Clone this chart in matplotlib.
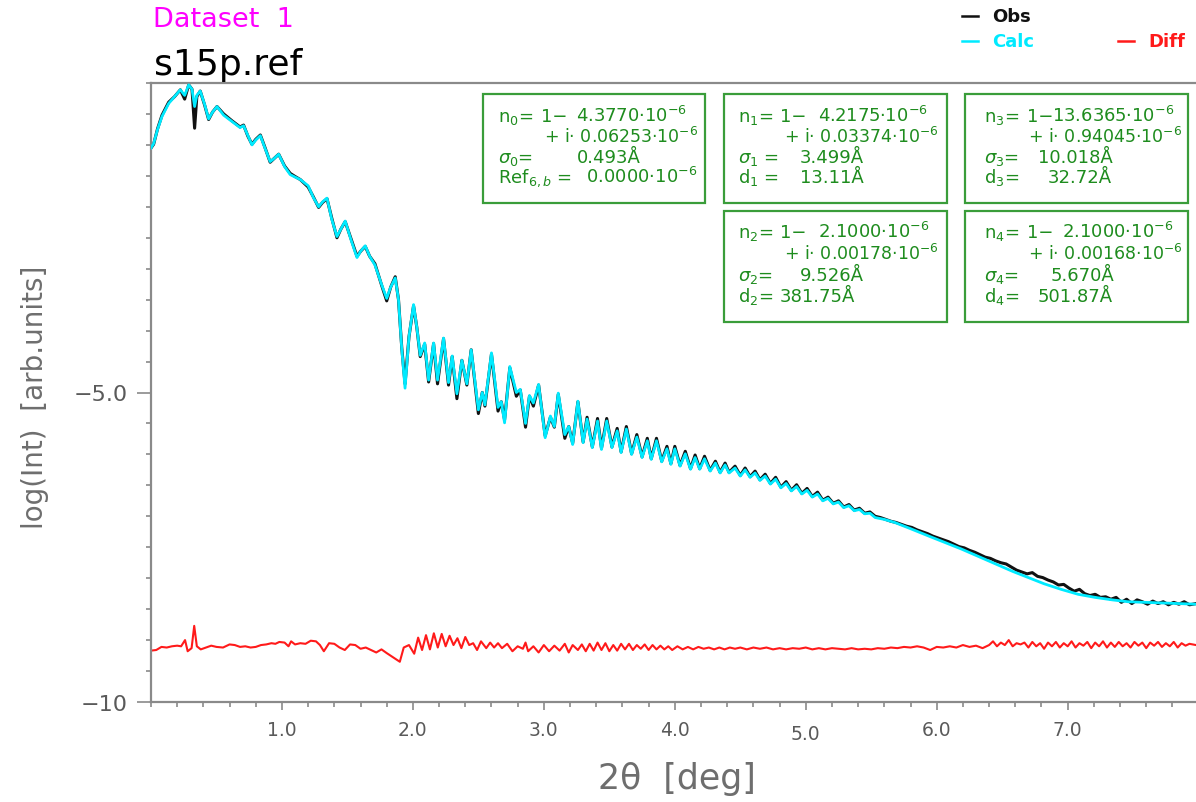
import matplotlib
matplotlib.use("Agg")
import matplotlib.pyplot as plt
from matplotlib.lines import Line2D
from matplotlib.patches import Rectangle
from matplotlib.ticker import FixedLocator, MultipleLocator

# ---------------- data ----------------
osc_x = [0.00, 0.02, 0.05, 0.084, 0.135, 0.18, 0.224, 0.257, 0.288, 0.313, 0.333, 0.35, 0.376, 0.41,
         0.44, 0.47, 0.504, 0.555, 0.618, 0.68, 0.707, 0.74, 0.771, 0.80, 0.835, 0.87, 0.91, 0.94,
         0.975, 1.02, 1.063, 1.10, 1.14, 1.20, 1.24, 1.28, 1.31, 1.344, 1.38, 1.42, 1.45, 1.483,
         1.53, 1.573, 1.60, 1.636, 1.67, 1.71, 1.76, 1.80, 1.83, 1.865, 1.89, 1.915, 1.94, 1.97,
         2.005, 2.03, 2.056, 2.09, 2.12, 2.158, 2.188, 2.234, 2.272, 2.30, 2.336, 2.374, 2.412,
         2.445, 2.50, 2.53, 2.55, 2.60, 2.65, 2.675, 2.70, 2.74, 2.79, 2.82, 2.86, 2.89, 2.92,
         2.96, 3.01, 3.05, 3.08, 3.11, 3.16, 3.19, 3.22, 3.26, 3.30, 3.33, 3.37, 3.41, 3.44, 3.48,
         3.52, 3.56, 3.59, 3.63, 3.67, 3.71, 3.75, 3.79, 3.82, 3.86, 3.90, 3.94, 3.97, 4.00, 4.04,
         4.08, 4.12, 4.155, 4.19, 4.227, 4.27, 4.31, 4.346, 4.384, 4.414, 4.46, 4.50, 4.537, 4.575,
         4.613, 4.65, 4.69, 4.73, 4.77, 4.81, 4.85, 4.89, 4.93, 4.97, 5.01, 5.05, 5.09, 5.13, 5.17,
         5.21, 5.25, 5.29, 5.33, 5.37, 5.41, 5.45, 5.49, 5.53]

calc_osc_y = [-1.05, -0.98, -0.75, -0.54, -0.33, -0.22, -0.11, -0.20, -0.03, -0.10, -0.38, -0.20,
              -0.13, -0.35, -0.58, -0.47, -0.38, -0.52, -0.62, -0.72, -0.69, -0.85, -1.00, -0.92,
              -0.85, -1.05, -1.27, -1.22, -1.15, -1.35, -1.48, -1.52, -1.56, -1.66, -1.85, -2.00,
              -1.92, -1.86, -2.20, -2.48, -2.36, -2.23, -2.55, -2.82, -2.72, -2.63, -2.80, -2.94,
              -3.25, -3.48, -3.30, -3.15, -3.50, -4.30, -4.93, -4.10, -3.58, -3.95, -4.40, -4.20,
              -4.80, -4.20, -4.80, -4.12, -4.84, -4.41, -5.02, -4.48, -4.86, -4.31, -5.28, -5.00,
              -5.20, -4.36, -5.24, -5.15, -5.49, -4.58, -5.00, -4.95, -5.50, -5.05, -5.17, -4.87,
              -5.73, -5.38, -5.55, -5.01, -5.68, -5.55, -5.84, -5.14, -5.81, -5.43, -5.89, -5.46,
              -5.92, -5.46, -5.89, -5.62, -5.97, -5.59, -6.00, -5.72, -6.05, -5.78, -6.08, -5.78,
              -6.12, -5.91, -6.16, -5.91, -6.19, -5.99, -6.24, -6.05, -6.24, -6.07, -6.27, -6.14,
              -6.30, -6.17, -6.30, -6.22, -6.35, -6.25, -6.37, -6.30, -6.42, -6.35, -6.48, -6.40,
              -6.54, -6.47, -6.59, -6.52, -6.64, -6.58, -6.69, -6.64, -6.75, -6.71, -6.80, -6.77,
              -6.86, -6.83, -6.91, -6.89, -6.96, -6.95, -7.02]

obs_osc_y = [-1.05, -0.99, -0.74, -0.52, -0.31, -0.22, -0.11, -0.26, -0.03, -0.10, -0.73, -0.22,
             -0.13, -0.36, -0.59, -0.47, -0.38, -0.50, -0.61, -0.71, -0.68, -0.86, -0.99, -0.91,
             -0.84, -1.04, -1.28, -1.22, -1.15, -1.34, -1.46, -1.51, -1.56, -1.68, -1.84, -2.01,
             -1.93, -1.87, -2.18, -2.50, -2.36, -2.24, -2.53, -2.80, -2.72, -2.64, -2.80, -2.92,
             -3.26, -3.52, -3.30, -3.13, -3.50, -4.28, -4.86, -4.10, -3.60, -3.95, -4.42, -4.22,
             -4.83, -4.21, -4.86, -4.13, -4.88, -4.42, -5.10, -4.48, -4.88, -4.31, -5.34, -5.00,
             -5.22, -4.38, -5.30, -5.15, -5.44, -4.60, -5.06, -4.96, -5.56, -5.06, -5.22, -4.88,
             -5.70, -5.40, -5.56, -5.03, -5.74, -5.55, -5.82, -5.15, -5.80, -5.40, -5.88, -5.42,
             -5.90, -5.42, -5.88, -5.58, -5.96, -5.55, -5.99, -5.68, -6.04, -5.74, -6.07, -5.74,
             -6.11, -5.87, -6.15, -5.87, -6.18, -5.95, -6.23, -6.01, -6.23, -6.03, -6.26, -6.11,
             -6.29, -6.14, -6.29, -6.19, -6.34, -6.22, -6.36, -6.27, -6.41, -6.32, -6.47, -6.37,
             -6.53, -6.44, -6.58, -6.49, -6.63, -6.55, -6.68, -6.61, -6.74, -6.69, -6.79, -6.75,
             -6.85, -6.81, -6.90, -6.87, -6.95, -6.93, -7.00]

calc_tail_x = [5.60, 5.68, 5.80, 5.94, 6.06, 6.19, 6.32, 6.45, 6.58, 6.70, 6.82, 6.95, 7.08, 7.21,
               7.34, 7.46, 7.59, 7.72, 7.85, 7.98]
calc_tail_y = [-7.05, -7.10, -7.20, -7.32, -7.42, -7.53, -7.65, -7.77, -7.89, -7.99, -8.09, -8.18,
               -8.26, -8.31, -8.35, -8.38, -8.39, -8.40, -8.41, -8.42]

obs_tail_x = [5.57, 5.61, 5.65, 5.69, 5.73, 5.77, 5.81, 5.85, 5.89, 5.93, 5.97, 6.01, 6.05, 6.09,
              6.13, 6.17, 6.21, 6.25, 6.29, 6.33, 6.37, 6.41, 6.45, 6.49, 6.53, 6.57, 6.61, 6.65,
              6.69, 6.73, 6.77, 6.81, 6.85, 6.89, 6.93, 6.97, 7.01, 7.05, 7.09, 7.13, 7.17, 7.21,
              7.25, 7.29, 7.33, 7.37, 7.41, 7.45, 7.49, 7.53, 7.57, 7.61, 7.65, 7.69, 7.73, 7.77,
              7.81, 7.85, 7.89, 7.93, 7.98]
obs_tail_y = [-7.02, -7.05, -7.08, -7.10, -7.13, -7.16, -7.18, -7.22, -7.25, -7.28, -7.32, -7.35,
              -7.38, -7.41, -7.45, -7.49, -7.51, -7.55, -7.58, -7.62, -7.66, -7.68, -7.72, -7.75,
              -7.77, -7.82, -7.87, -7.90, -7.93, -7.91, -7.97, -7.99, -8.03, -8.06, -8.11, -8.10,
              -8.16, -8.21, -8.18, -8.25, -8.28, -8.26, -8.31, -8.30, -8.34, -8.31, -8.39, -8.34,
              -8.41, -8.35, -8.38, -8.42, -8.37, -8.41, -8.38, -8.43, -8.39, -8.42, -8.38, -8.43,
              -8.41]

diff_x = [0.00, 0.04, 0.08, 0.12, 0.16, 0.20, 0.23, 0.26, 0.28, 0.31, 0.33, 0.35, 0.38, 0.42,
          0.46, 0.50, 0.55, 0.60, 0.64, 0.68, 0.72, 0.76, 0.80, 0.84, 0.88, 0.92, 0.95, 0.98,
          1.02, 1.05, 1.07, 1.10, 1.14, 1.18, 1.22, 1.26, 1.29, 1.32, 1.36, 1.40, 1.44, 1.48,
          1.52, 1.56, 1.60, 1.64, 1.68, 1.72, 1.76, 1.80, 1.85, 1.90, 1.93, 1.97, 2.01, 2.04,
          2.07, 2.10, 2.13, 2.16, 2.19, 2.22, 2.25, 2.28, 2.31, 2.34, 2.37, 2.40, 2.43, 2.46,
          2.49, 2.52, 2.56, 2.59, 2.62, 2.65, 2.68, 2.72, 2.76, 2.80, 2.84, 2.86, 2.88, 2.92,
          2.96, 3.00, 3.04, 3.08, 3.12, 3.16, 3.19, 3.22, 3.26, 3.29, 3.32, 3.35, 3.38, 3.41,
          3.44, 3.47, 3.50, 3.53, 3.56, 3.59, 3.62, 3.65, 3.68, 3.71, 3.74, 3.77, 3.80, 3.83,
          3.86, 3.89, 3.92, 3.95, 3.98, 4.02, 4.06, 4.10, 4.14, 4.18, 4.22, 4.26, 4.30, 4.34,
          4.38, 4.42, 4.46, 4.50, 4.55, 4.60, 4.65, 4.70, 4.75, 4.80, 4.85, 4.90, 4.95, 5.00,
          5.05, 5.10, 5.15, 5.20, 5.25, 5.30, 5.35, 5.40, 5.45, 5.50, 5.55, 5.60, 5.65, 5.70,
          5.75, 5.80, 5.85, 5.90, 5.95, 6.00, 6.05, 6.10, 6.15, 6.20, 6.25, 6.30, 6.35, 6.40,
          6.43, 6.46, 6.49, 6.52, 6.55, 6.58, 6.61, 6.64, 6.67, 6.70, 6.73, 6.76, 6.79, 6.82,
          6.85, 6.88, 6.91, 6.94, 6.97, 7.00, 7.03, 7.06, 7.09, 7.12, 7.15, 7.18, 7.21, 7.24,
          7.27, 7.30, 7.33, 7.36, 7.39, 7.42, 7.45, 7.48, 7.51, 7.54, 7.57, 7.60, 7.63, 7.66,
          7.69, 7.72, 7.75, 7.78, 7.81, 7.84, 7.87, 7.90, 7.93, 7.98]
diff_y = [-9.17, -9.16, -9.11, -9.12, -9.10, -9.09, -9.10, -9.00, -9.18, -9.13, -8.77, -9.10,
          -9.15, -9.12, -9.09, -9.11, -9.12, -9.07, -9.08, -9.11, -9.10, -9.12, -9.11, -9.08,
          -9.07, -9.05, -9.06, -9.03, -9.04, -9.10, -9.02, -9.07, -9.05, -9.06, -9.01, -9.02,
          -9.08, -9.18, -9.05, -9.06, -9.12, -9.16, -9.07, -9.08, -9.14, -9.12, -9.16, -9.20,
          -9.15, -9.21, -9.28, -9.35, -9.12, -9.08, -9.22, -8.96, -9.16, -8.92, -9.15, -8.89,
          -9.12, -8.90, -9.10, -8.93, -9.08, -8.97, -9.13, -8.95, -9.08, -9.05, -9.16, -9.02,
          -9.13, -9.04, -9.12, -9.05, -9.13, -9.06, -9.18, -9.10, -9.14, -9.04, -9.18, -9.10,
          -9.20, -9.08, -9.18, -9.09, -9.17, -9.06, -9.20, -9.08, -9.16, -9.07, -9.18, -9.06,
          -9.17, -9.04, -9.16, -9.05, -9.18, -9.08, -9.17, -9.06, -9.15, -9.06, -9.16, -9.08,
          -9.14, -9.07, -9.16, -9.08, -9.15, -9.09, -9.15, -9.10, -9.16, -9.10, -9.15, -9.11,
          -9.15, -9.11, -9.14, -9.12, -9.15, -9.12, -9.15, -9.12, -9.14, -9.12, -9.15, -9.12,
          -9.14, -9.12, -9.15, -9.13, -9.15, -9.13, -9.14, -9.12, -9.15, -9.13, -9.15, -9.13,
          -9.14, -9.15, -9.13, -9.15, -9.14, -9.15, -9.13, -9.14, -9.12, -9.13, -9.11, -9.12,
          -9.10, -9.12, -9.16, -9.11, -9.12, -9.10, -9.12, -9.08, -9.11, -9.09, -9.13, -9.08,
          -9.02, -9.10, -9.04, -9.08, -9.00, -9.10, -9.05, -9.07, -9.04, -9.12, -9.03, -9.10,
          -9.05, -9.14, -9.04, -9.10, -9.03, -9.12, -9.05, -9.10, -9.02, -9.12, -9.05, -9.09,
          -9.03, -9.13, -9.04, -9.10, -9.02, -9.12, -9.04, -9.11, -9.03, -9.10, -9.05, -9.12,
          -9.03, -9.09, -9.04, -9.13, -9.04, -9.09, -9.03, -9.11, -9.05, -9.10, -9.03, -9.12,
          -9.05, -9.09, -9.06, -9.08]

x_tick_values = [1, 2, 3, 4, 5, 6, 7]
x_tick_labels = ["1.0", "2.0", "3.0", "4.0", "5.0", "6.0", "7.0"]
y_tick_values = [-10, -5]
y_tick_labels = ["−10", "−5.0"]

dataset_title = "Dataset  1"
file_title = "s15p.ref"
x_label = "2θ  [deg]"
y_label = "log(Int)  [arb.units]"

# parameter boxes: (label, prefix, value) rows
box_rows = [
    [("n$_0$=", "1−", "4.3770·10$^{-6}$"),
     ("", "", "+ i· 0.06253·10$^{-6}$"),
     ("$\\sigma_0$=", "", "0.493Å"),
     ("Ref$_{6,b}$ =", "", "0.0000·10$^{-6}$")],
    [("n$_1$=", "1−", "4.2175·10$^{-6}$"),
     ("", "", "+ i· 0.03374·10$^{-6}$"),
     ("$\\sigma_1$ =", "", "3.499Å"),
     ("d$_1$ =", "", "13.11Å")],
    [("n$_3$=", "1−", "13.6365·10$^{-6}$"),
     ("", "", "+ i· 0.94045·10$^{-6}$"),
     ("$\\sigma_3$=", "", "10.018Å"),
     ("d$_3$=", "", "32.72Å")],
    [("n$_2$=", "1−", "2.1000·10$^{-6}$"),
     ("", "", "+ i· 0.00178·10$^{-6}$"),
     ("$\\sigma_2$=", "", "9.526Å"),
     ("d$_2$=", "", "381.75Å")],
    [("n$_4$=", "1−", "2.1000·10$^{-6}$"),
     ("", "", "+ i· 0.00168·10$^{-6}$"),
     ("$\\sigma_4$=", "", "5.670Å"),
     ("d$_4$=", "", "501.87Å")],
]

# ---------------- layout helpers ----------------
W, H = 1196, 803
def fx(px):
    return px / W
def fy(py):
    return 1 - py / H

plt.rcParams["mathtext.fontset"] = "dejavusans"
fig = plt.figure(figsize=(W / 100, H / 100), dpi=100)
ax = fig.add_axes([fx(151), fy(703), fx(1196) - fx(151), fy(84) - fy(703)])

SPINE = "#8a8a8a"
TICKLAB = "#5a5a5a"
LABEL = "#6e6e6e"
GREEN_TXT = "#1e8c1e"
GREEN_BOX = "#3a9d3a"
CYAN = "#00eaff"

obs_x = osc_x + obs_tail_x
obs_y = obs_osc_y + obs_tail_y
calc_x = osc_x + calc_tail_x
calc_y = calc_osc_y + calc_tail_y

ax.plot(obs_x, obs_y, color="#111111", lw=2.2, solid_joinstyle="round", zorder=2)
ax.plot(calc_x, calc_y, color=CYAN, lw=2.0, solid_joinstyle="round", zorder=3)
ax.plot(diff_x, diff_y, color="#ff1a1a", lw=1.5, solid_joinstyle="round", zorder=2)

ax.set_xlim(0, 7.98)
ax.set_ylim(-10, 0)

for s in ["left", "bottom", "top"]:
    ax.spines[s].set_color(SPINE)
    ax.spines[s].set_linewidth(1.6)
ax.spines["right"].set_visible(False)

ax.xaxis.set_major_locator(FixedLocator(x_tick_values))
ax.set_xticklabels(x_tick_labels)
ax.xaxis.set_minor_locator(MultipleLocator(0.2))
ax.yaxis.set_major_locator(FixedLocator(y_tick_values))
ax.set_yticklabels(y_tick_labels)
ax.yaxis.set_minor_locator(MultipleLocator(0.5))

ax.tick_params(axis="x", which="major", length=6, width=1.2, color=SPINE, pad=7,
               labelsize=13.5, labelcolor=TICKLAB)
ax.tick_params(axis="x", which="minor", length=3.6, width=1.2, color=SPINE)
ax.tick_params(axis="y", which="major", length=10, width=1.2, color=SPINE, pad=7,
               labelsize=16, labelcolor=TICKLAB)
ax.tick_params(axis="y", which="minor", length=3.6, width=1.2, color=SPINE)

# the 5.0 tick is drawn longer with its label lower
t5 = ax.xaxis.get_major_ticks()[x_tick_values.index(5)]
t5.tick1line.set_markersize(9)
t5.set_pad(10)

# axis titles
fig.text(fx(677), fy(779), x_label, ha="center", va="center", fontsize=25, color=LABEL)
fig.text(fx(35), fy(397), y_label, ha="center", va="center", rotation=90, fontsize=20,
         color=LABEL)

# titles
fig.text(fx(153), fy(20), dataset_title, ha="left", va="center", fontsize=19.5,
         color="#ff00ff")
fig.text(fx(154), fy(75), file_title, ha="left", va="baseline", fontsize=26, color="black")

# legend
leg = [("Obs", "#111111", 962, 992, 17), ("Calc", CYAN, 962, 992, 42),
       ("Diff", "#ff1a1a", 1118, 1148, 42)]
for name, col, lx, tx, ly in leg:
    fig.add_artist(Line2D([fx(lx), fx(lx + 16)], [fy(ly), fy(ly)], color=col, lw=1.8,
                          transform=fig.transFigure))
    fig.text(fx(tx), fy(ly), name, ha="left", va="center", fontsize=13, color=col,
             fontweight="bold")

# parameter boxes
box_geom = [(483, 95, 705, 204), (724, 95, 947, 204), (965, 95, 1188, 204),
            (724, 212, 947, 323), (965, 212, 1188, 323)]
# x positions: label, "1-", values of the four rows
col_pos = [
    (498, 541, [576, 544, 577, 586]),
    (738, 780, [818, 784, 800, 800]),
    (984, 1027, [1052, 1028, 1038, 1048]),
    (738, 780, [818, 784, 800, 780]),
    (984, 1027, [1062, 1028, 1051, 1038]),
]
top_base = [122, 143, 163, 183]
bot_base = [238, 260, 281, 302]
for bi, (x0, y0, x1, y1) in enumerate(box_geom):
    fig.add_artist(Rectangle((fx(x0), fy(y1)), fx(x1) - fx(x0), fy(y0) - fy(y1),
                             transform=fig.transFigure, fill=False, edgecolor=GREEN_BOX,
                             lw=1.6))
    lx, px, vxs = col_pos[bi]
    bases = top_base if bi < 3 else bot_base
    for ri, (lab, pre, val) in enumerate(box_rows[bi]):
        yb = fy(bases[ri])
        fs = 12.5 if ri == 1 else 13
        if lab:
            fig.text(fx(lx), yb, lab, ha="left", va="baseline", fontsize=13, color=GREEN_TXT)
        if pre:
            fig.text(fx(px), yb, pre, ha="left", va="baseline", fontsize=13, color=GREEN_TXT)
        fig.text(fx(vxs[ri]), yb, val, ha="left", va="baseline", fontsize=fs,
                 color=GREEN_TXT)

fig.savefig("out.png", dpi=100)
